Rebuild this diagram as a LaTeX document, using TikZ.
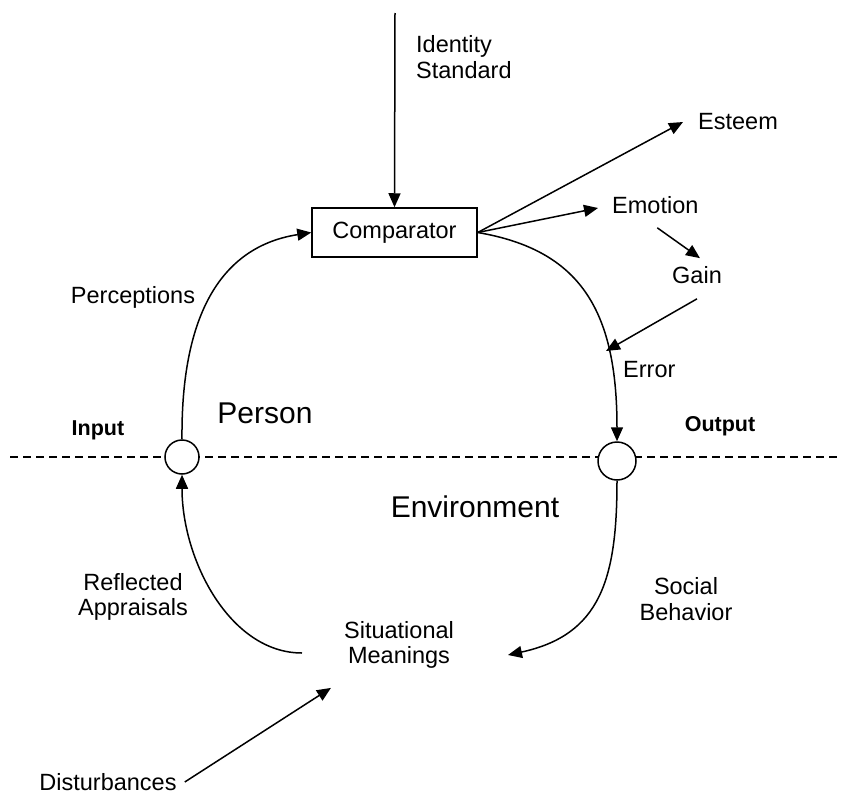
\documentclass[tikz,border=0pt]{standalone}
\usepackage{fontspec}
\setmainfont{Liberation Sans}
\usetikzlibrary{arrows.meta}
\begin{document}
\begin{tikzpicture}[x=1pt,y=-1pt,
  every node/.style={font=\fontsize{23.5}{25.5}\selectfont, inner sep=0pt, align=center},
  big/.style={font=\fontsize{30}{33}\selectfont},
  bold/.style={font=\fontsize{21.5}{24}\selectfont\bfseries},
  conn/.style={line width=1.5pt, -{Triangle[length=14pt,width=12pt]}},
  junction/.style={circle, draw, line width=1.5pt, fill=white},
  boundary/.style={line width=1.2pt, dash pattern=on 8pt off 5pt}]
\useasboundingbox (0,0) rectangle (841,795);

% boundary line
\coordinate (bl) at (10,457);
\coordinate (br) at (838,457);
\draw[boundary] (bl) -- (br);

% nodes
\node[junction, minimum size=34pt] (inp) at (182,457) {};
\node[junction, minimum size=38pt] (outp) at (617,461) {};
\node[draw, line width=1.5pt, minimum width=165pt, minimum height=49pt] (comp) at (394.5,232.5) {Comparator};
\node[anchor=west, align=left] (idstd) at (416,57) {Identity\\Standard};
\node[anchor=west] (esteem) at (698,122) {Esteem};
\node[anchor=west] (emotion) at (612,205) {Emotion};
\node (gain) at (697,275) {Gain};
\node[anchor=west] (error) at (623,370) {Error};
\node (perc) at (133,297) {Perceptions};
\node[big] (person) at (265,413) {Person};
\node[big] (env) at (475,507) {Environment};
\node[bold] (input) at (98,430) {Input};
\node[bold] (output) at (720,426) {Output};
\node (refl) at (133,597) {Reflected\\Appraisals};
\node (social) at (686,599) {Social\\Behavior};
\node (sm) at (399,645) {Situational\\Meanings};
\node (dist) at (108,782) {Disturbances};

% helper coordinates
\coordinate (idtop) at (395,13);
\coordinate (errpt) at (606,351);
\coordinate (smleft) at (302,653);
\coordinate (smright) at (508,655);

% connectors
\draw[conn] (idtop) -- (comp.north);
\draw[conn] (comp.east) -- ([xshift=-15pt]esteem.west);
\draw[conn] (comp.east) -- ([xshift=-14pt,yshift=-3pt]emotion.west);
\draw[conn] (comp.east) .. controls (580,250) and (617,310) .. (outp.north);
\draw[conn] ([xshift=2pt,yshift=-14pt]emotion.south) -- ([xshift=3pt,yshift=8pt]gain.north);
\draw[conn] ([yshift=-15pt]gain.south) -- (errpt);
\draw[conn] (inp.north) .. controls (181,330) and (212,248) .. (comp.west);
\draw[conn] (smleft) .. controls (230,653) and (182,560) .. (inp.south);
\draw[conn] (outp.south) .. controls (617,580) and (600,635) .. (smright);
\draw[conn] ([xshift=8pt]dist.east) -- ([xshift=-13pt,yshift=-19pt]sm.south west);
\end{tikzpicture}
\end{document}
